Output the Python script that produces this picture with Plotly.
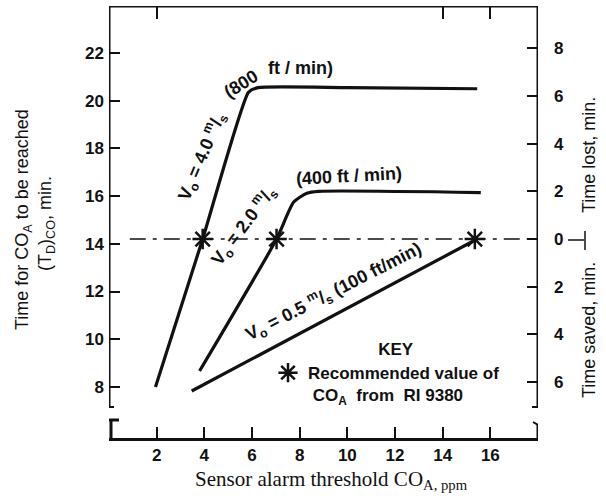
import plotly.graph_objects as go

# ---------------- data ----------------
x_ticks = [2, 4, 6, 8, 10, 12, 14, 16]
y_ticks = [8, 10, 12, 14, 16, 18, 20, 22]
zero_line = 14.2                       # "0" of the time lost / saved scale
right_labels = ["6", "4", "2", "0", "2", "4", "6", "8"]
right_offsets = [-6, -4, -2, 0, 2, 4, 6, 8]

v40_x = [1.95, 3.93, 5.85, 6.25, 10.0, 15.45]
v40_y = [8.0, 14.2, 20.35, 20.55, 20.55, 20.5]

v20_x = [3.8, 7.03, 7.75, 8.3, 8.8, 15.6]
v20_y = [8.67, 14.2, 15.75, 16.12, 16.2, 16.15]

v05_x = [3.47, 15.35]
v05_y = [7.83, 14.15]

star_x = [3.93, 7.03, 15.35]
star_y = [zero_line, zero_line, zero_line]

X_RANGE = [0, 18]
Y_RANGE = [5.86, 23.97]

# ---------------- layout geometry ----------------
W, H = 606, 502
ML, MR, MT, MB = 109, 68, 6, 64
PW, PH = W - ML - MR, H - MT - MB


def px2x(px):
    return X_RANGE[0] + (px - ML) / PW * (X_RANGE[1] - X_RANGE[0])


def py2y(py):
    return Y_RANGE[0] + (H - MB - py) / PH * (Y_RANGE[1] - Y_RANGE[0])


def pxp(px):
    return (px - ML) / PW


def pyp(py):
    return (H - MB - py) / PH


INK = "#111111"
SANS = "Liberation Sans, Arial, sans-serif"
SERIF = "Liberation Serif, Times New Roman, serif"

fig = go.Figure()

line_style = dict(color=INK, width=3.2)
fig.add_trace(go.Scatter(x=v40_x, y=v40_y, mode="lines", line=dict(**line_style, shape="spline", smoothing=0.5),
                         showlegend=False, hoverinfo="skip"))
fig.add_trace(go.Scatter(x=v20_x, y=v20_y, mode="lines", line=dict(**line_style, shape="spline", smoothing=0.6),
                         showlegend=False, hoverinfo="skip"))
fig.add_trace(go.Scatter(x=v05_x, y=v05_y, mode="lines", line=line_style,
                         showlegend=False, hoverinfo="skip"))

# dash-dot zero reference line
fig.add_trace(go.Scatter(x=[0.87, 18], y=[zero_line, zero_line], mode="lines",
                         line=dict(color=INK, width=1.6, dash="16px,7px,4px,7px"),
                         showlegend=False, hoverinfo="skip"))

# recommended values (stars) – also provides the key entry
fig.add_trace(go.Scatter(x=star_x, y=star_y, mode="markers",
                         marker=dict(symbol="asterisk-open", size=17, color=INK,
                                     line=dict(color=INK, width=2.5)),
                         name="Recommended value of<br>\u00a0CO<sub>A</sub>  from  RI 9380",
                         showlegend=True, hoverinfo="skip"))

# overlay axes (right scale, top ticks)
fig.add_trace(go.Scatter(x=[None], y=[None], yaxis="y2", showlegend=False))
fig.add_trace(go.Scatter(x=[None], y=[None], xaxis="x2", showlegend=False))

tickfont = dict(family=SANS, size=17, color=INK)


def bold(vals):
    return ["<b>%s</b>" % v for v in vals]


fig.update_layout(
    width=W, height=H,
    margin=dict(l=ML, r=MR, t=MT, b=MB, pad=0),
    paper_bgcolor="white", plot_bgcolor="white",
    xaxis=dict(range=X_RANGE, tickvals=x_ticks, ticktext=bold(x_ticks),
               ticks="inside", ticklen=11, tickwidth=2, tickcolor=INK,
               showline=True, linewidth=3, linecolor=INK, showgrid=False, zeroline=False,
               tickfont=tickfont, ticklabelstandoff=0),
    xaxis2=dict(range=X_RANGE, overlaying="x", side="top", anchor="y",
                tickvals=[2, 14, 16], ticks="inside", ticklen=13, tickwidth=2, tickcolor=INK,
                showticklabels=False, showgrid=False, zeroline=False, showline=False),
    yaxis=dict(range=Y_RANGE, tickvals=y_ticks, ticktext=bold(y_ticks),
               ticks="inside", ticklen=11, tickwidth=2, tickcolor=INK,
               showline=False, showgrid=False, zeroline=False, tickfont=tickfont,
               ticklabelstandoff=4),
    yaxis2=dict(range=Y_RANGE, overlaying="y", side="right", anchor="x",
                tickvals=[zero_line + o for o in right_offsets], ticktext=bold(right_labels),
                ticks="inside", ticklen=11, tickwidth=2, tickcolor=INK,
                showline=False, showgrid=False, zeroline=False, tickfont=tickfont,
                ticklabelstandoff=15),
    legend=dict(x=pxp(268), y=pyp(333), xanchor="left", yanchor="top",
                bgcolor="rgba(0,0,0,0)", borderwidth=0, valign="top",
                font=dict(family=SANS, size=17, color=INK, weight="bold"),
                title=dict(text="\u00a0\u00a0\u00a0\u00a0KEY", side="top center",
                           font=dict(family=SANS, size=17, color=INK, weight="bold")),
                itemwidth=30, tracegroupgap=0),
    showlegend=True,
)

# ---------------- frame pieces ----------------
shapes = []
thick = dict(color=INK, width=3)
bottom_y = py2y(407)
# left axis line
shapes.append(dict(type="line", xref="x", yref="y", x0=0, x1=0, y0=bottom_y, y1=Y_RANGE[1], line=thick))
# right axis line
shapes.append(dict(type="line", xref="x", yref="y", x0=18, x1=18, y0=bottom_y, y1=Y_RANGE[1], line=thick))
# top line
shapes.append(dict(type="line", xref="x", yref="y", x0=0, x1=18, y0=Y_RANGE[1], y1=Y_RANGE[1], line=thick))
# feet of vertical axes
shapes.append(dict(type="line", xref="x", yref="y", x0=px2x(104), x1=px2x(114), y0=bottom_y, y1=bottom_y, line=dict(color=INK, width=2)))
shapes.append(dict(type="line", xref="x", yref="y", x0=px2x(532), x1=px2x(544), y0=bottom_y, y1=bottom_y, line=dict(color=INK, width=2)))
# axis break "T" (left) and hook (right) on the x axis
shapes.append(dict(type="line", xref="x", yref="y", x0=px2x(104), x1=px2x(119), y0=py2y(420), y1=py2y(420), line=thick))
shapes.append(dict(type="line", xref="x", yref="y", x0=px2x(111), x1=px2x(111), y0=py2y(420), y1=py2y(438), line=thick))
shapes.append(dict(type="line", xref="x", yref="y", x0=px2x(538), x1=px2x(538), y0=py2y(425), y1=py2y(438), line=thick))
shapes.append(dict(type="line", xref="x", yref="y", x0=px2x(533), x1=px2x(538), y0=py2y(422), y1=py2y(425), line=dict(color=INK, width=2)))
shapes.append(dict(type="line", xref="x", yref="y", x0=px2x(538), x1=px2x(543), y0=py2y(425), y1=py2y(421), line=dict(color=INK, width=2)))
# divider between "Time lost" / "Time saved"
shapes.append(dict(type="line", xref="paper", yref="paper", x0=pxp(568), x1=pxp(584), y0=pyp(240), y1=pyp(240), line=dict(color=INK, width=1.5)))
shapes.append(dict(type="line", xref="paper", yref="paper", x0=pxp(585), x1=pxp(585), y0=pyp(231), y1=pyp(250), line=dict(color=INK, width=1.5)))
fig.update_layout(shapes=shapes)

# ---------------- text ----------------
lab = dict(family=SANS, size=18, color=INK, weight="bold")
ann = []


def add_text(text, px, py, angle=0, font=lab, ref="data", **kw):
    if ref == "data":
        ann.append(dict(text=text, x=px2x(px), y=py2y(py), xref="x", yref="y", textangle=angle,
                        showarrow=False, font=font, xanchor="center", yanchor="middle", **kw))
    else:
        ann.append(dict(text=text, x=pxp(px), y=pyp(py), xref="paper", yref="paper", textangle=angle,
                        showarrow=False, font=font, xanchor="center", yanchor="middle", **kw))


# curve labels
add_text("V<sub>o</sub> = 4.0 <sup>m</sup>/<sub>s</sub>", 201, 156, -67)
add_text("(800", 241, 84, -32)
add_text("ft / min)", 300, 68, 0)
add_text("V<sub>o</sub> = 2.0 <sup>m</sup>/<sub>s</sub>", 243, 225, -53)
add_text("(400 ft / min)", 349, 176, -3)
add_text("V<sub>o</sub> = 0.5 <sup>m</sup>/<sub>s</sub> (100 ft/min)", 333, 291, -27)

# axis titles
tfont = dict(family=SANS, size=18, color=INK)
add_text("Time for CO<sub>A</sub> to be reached", 23, 220, -90, font=tfont, ref="paper")
add_text("(T<sub>D</sub>)<sub>CO</sub>, min.", 46, 224, -90, font=tfont, ref="paper")
add_text("Time lost, min.", 589, 155, -90, font=tfont, ref="paper")
add_text("Time saved, min.", 589, 330, -90, font=tfont, ref="paper")
add_text("Sensor alarm threshold CO<sub>A, ppm</sub>", 331, 480, 0,
         font=dict(family=SERIF, size=21, color=INK), ref="paper")

fig.update_layout(annotations=ann)

fig.write_html("out.html")
